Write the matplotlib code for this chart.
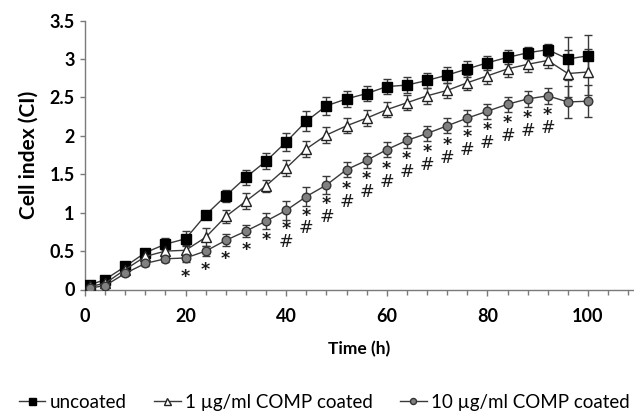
import matplotlib
matplotlib.use("Agg")
import matplotlib.pyplot as plt
from matplotlib.lines import Line2D
import numpy as np

plt.rcParams['font.family'] = ['Lato', 'DejaVu Sans']

time_h = [1, 4, 8, 12, 16, 20, 24, 28, 32, 36, 40, 44, 48, 52, 56, 60,
          64, 68, 72, 76, 80, 84, 88, 92, 96, 100]

uncoated = [0.06, 0.13, 0.30, 0.48, 0.59, 0.66, 0.97, 1.22, 1.46, 1.67, 1.92, 2.19,
            2.39, 2.48, 2.55, 2.64, 2.66, 2.72, 2.79, 2.87, 2.95, 3.02, 3.08, 3.12,
            3.00, 3.04]
uncoated_err = [0.02, 0.03, 0.04, 0.05, 0.08, 0.10, 0.05, 0.08, 0.10, 0.10, 0.12, 0.13,
                0.12, 0.10, 0.10, 0.10, 0.10, 0.10, 0.10, 0.10, 0.09, 0.09, 0.08, 0.08,
                0.28, 0.27]

comp1 = [0.04, 0.08, 0.26, 0.43, 0.50, 0.51, 0.68, 0.95, 1.15, 1.35, 1.58, 1.83,
         2.01, 2.13, 2.23, 2.34, 2.43, 2.52, 2.59, 2.69, 2.78, 2.87, 2.93, 2.98,
         2.81, 2.83]
comp1_err = [0.02, 0.03, 0.04, 0.05, 0.06, 0.07, 0.12, 0.08, 0.10, 0.08, 0.10, 0.10,
             0.10, 0.10, 0.10, 0.10, 0.10, 0.10, 0.10, 0.10, 0.10, 0.10, 0.10, 0.10,
             0.30, 0.30]

comp10 = [0.02, 0.05, 0.21, 0.34, 0.40, 0.41, 0.50, 0.64, 0.76, 0.89, 1.03, 1.21,
          1.36, 1.56, 1.68, 1.82, 1.94, 2.03, 2.13, 2.23, 2.32, 2.41, 2.48, 2.52,
          2.44, 2.45]
comp10_err = [0.02, 0.02, 0.03, 0.04, 0.04, 0.05, 0.07, 0.08, 0.08, 0.10, 0.12, 0.12,
              0.12, 0.10, 0.10, 0.10, 0.10, 0.10, 0.10, 0.10, 0.10, 0.10, 0.10, 0.10,
              0.21, 0.21]

# significance marks below the 10 ug/ml series
star_times = [20, 24, 28, 32, 36, 40, 44, 48, 52, 56, 60, 64, 68, 72, 76, 80, 84, 88, 92]
hash_times = [40, 44, 48, 52, 56, 60, 64, 68, 72, 76, 80, 84, 88, 92]

series_labels = ['uncoated', '1 µg/ml COMP coated', '10 µg/ml COMP coated']

fig = plt.figure(figsize=(6.34, 4.19), dpi=100)
ax = fig.add_axes([85 / 634, 1 - 289.5 / 419, (634 - 85) / 634, (289.5 - 20.5) / 419])

line_col = '#3a3a3a'
common = dict(color=line_col, lw=1.0, ecolor='#3a3a3a', elinewidth=1.0,
              capsize=2.9, capthick=1.0)

styles = [
    dict(marker='s', ms=7.2, mfc='black', mec='black'),
    dict(marker='^', ms=7.2, mfc='white', mec='#222222', mew=1.0),
    dict(marker='o', ms=6.2, mfc='#808080', mec='#333333', mew=1.0),
]

for vals, errs, st in zip([uncoated, comp1, comp10],
                          [uncoated_err, comp1_err, comp10_err], styles):
    ax.errorbar(time_h, vals, yerr=errs, zorder=3, **st, **common)

t_index = {t: i for i, t in enumerate(time_h)}
for t in star_times:
    y = comp10[t_index[t]]
    label = r'$\mathbf{*}$' + ('\n#' if t in hash_times else '')
    ax.annotate(label, xy=(t, y), xytext=(0, -8 * 0.72), textcoords='offset points',
                ha='center', va='top', fontsize=12.5, linespacing=0.78,
                family=['DejaVu Sans'], color='#1a1a1a')

ax.set_xlim(0, 549 / 5.03)
ax.set_ylim(0, 3.5)
ax.set_xticks(np.arange(0, 101, 20))
ax.set_xticks(np.arange(0, 109, 4), minor=True)
ax.set_yticks(np.arange(0, 3.51, 0.5))
ax.set_yticklabels(['0', '0.5', '1', '1.5', '2', '2.5', '3', '3.5'])

for s in ['top', 'right']:
    ax.spines[s].set_visible(False)
for s in ['left', 'bottom']:
    ax.spines[s].set_color('#7a7a7a')
    ax.spines[s].set_linewidth(1.0)

ax.tick_params(axis='x', which='major', direction='out', length=4.5, width=1.0,
               color='#7a7a7a', labelsize=13, pad=9)
ax.tick_params(axis='x', which='minor', direction='out', length=3.5, width=1.0,
               color='#7a7a7a')
ax.tick_params(axis='y', which='major', direction='out', length=3.5, width=1.0,
               color='#7a7a7a', labelsize=13, pad=4)
for lab in ax.get_xticklabels() + ax.get_yticklabels():
    lab.set_fontweight('bold')

ax.set_xlabel('Time (h)', fontsize=12.5, fontweight='bold', labelpad=11)
ax.set_ylabel('Cell index (CI)', fontsize=15, fontweight='bold', labelpad=8)

handles = [Line2D([], [], color=line_col, lw=1.0,
                  **{k: (v * 0.7 if k == 'ms' else v) for k, v in st.items()})
           for st in styles]
leg = fig.legend(handles, series_labels, loc='center',
                 bbox_to_anchor=(0.512, 1 - 402 / 419), ncol=3, frameon=False,
                 fontsize=13.5, handlelength=1.4, handletextpad=0.25,
                 columnspacing=1.45)

fig.savefig('out.png', dpi=100)
